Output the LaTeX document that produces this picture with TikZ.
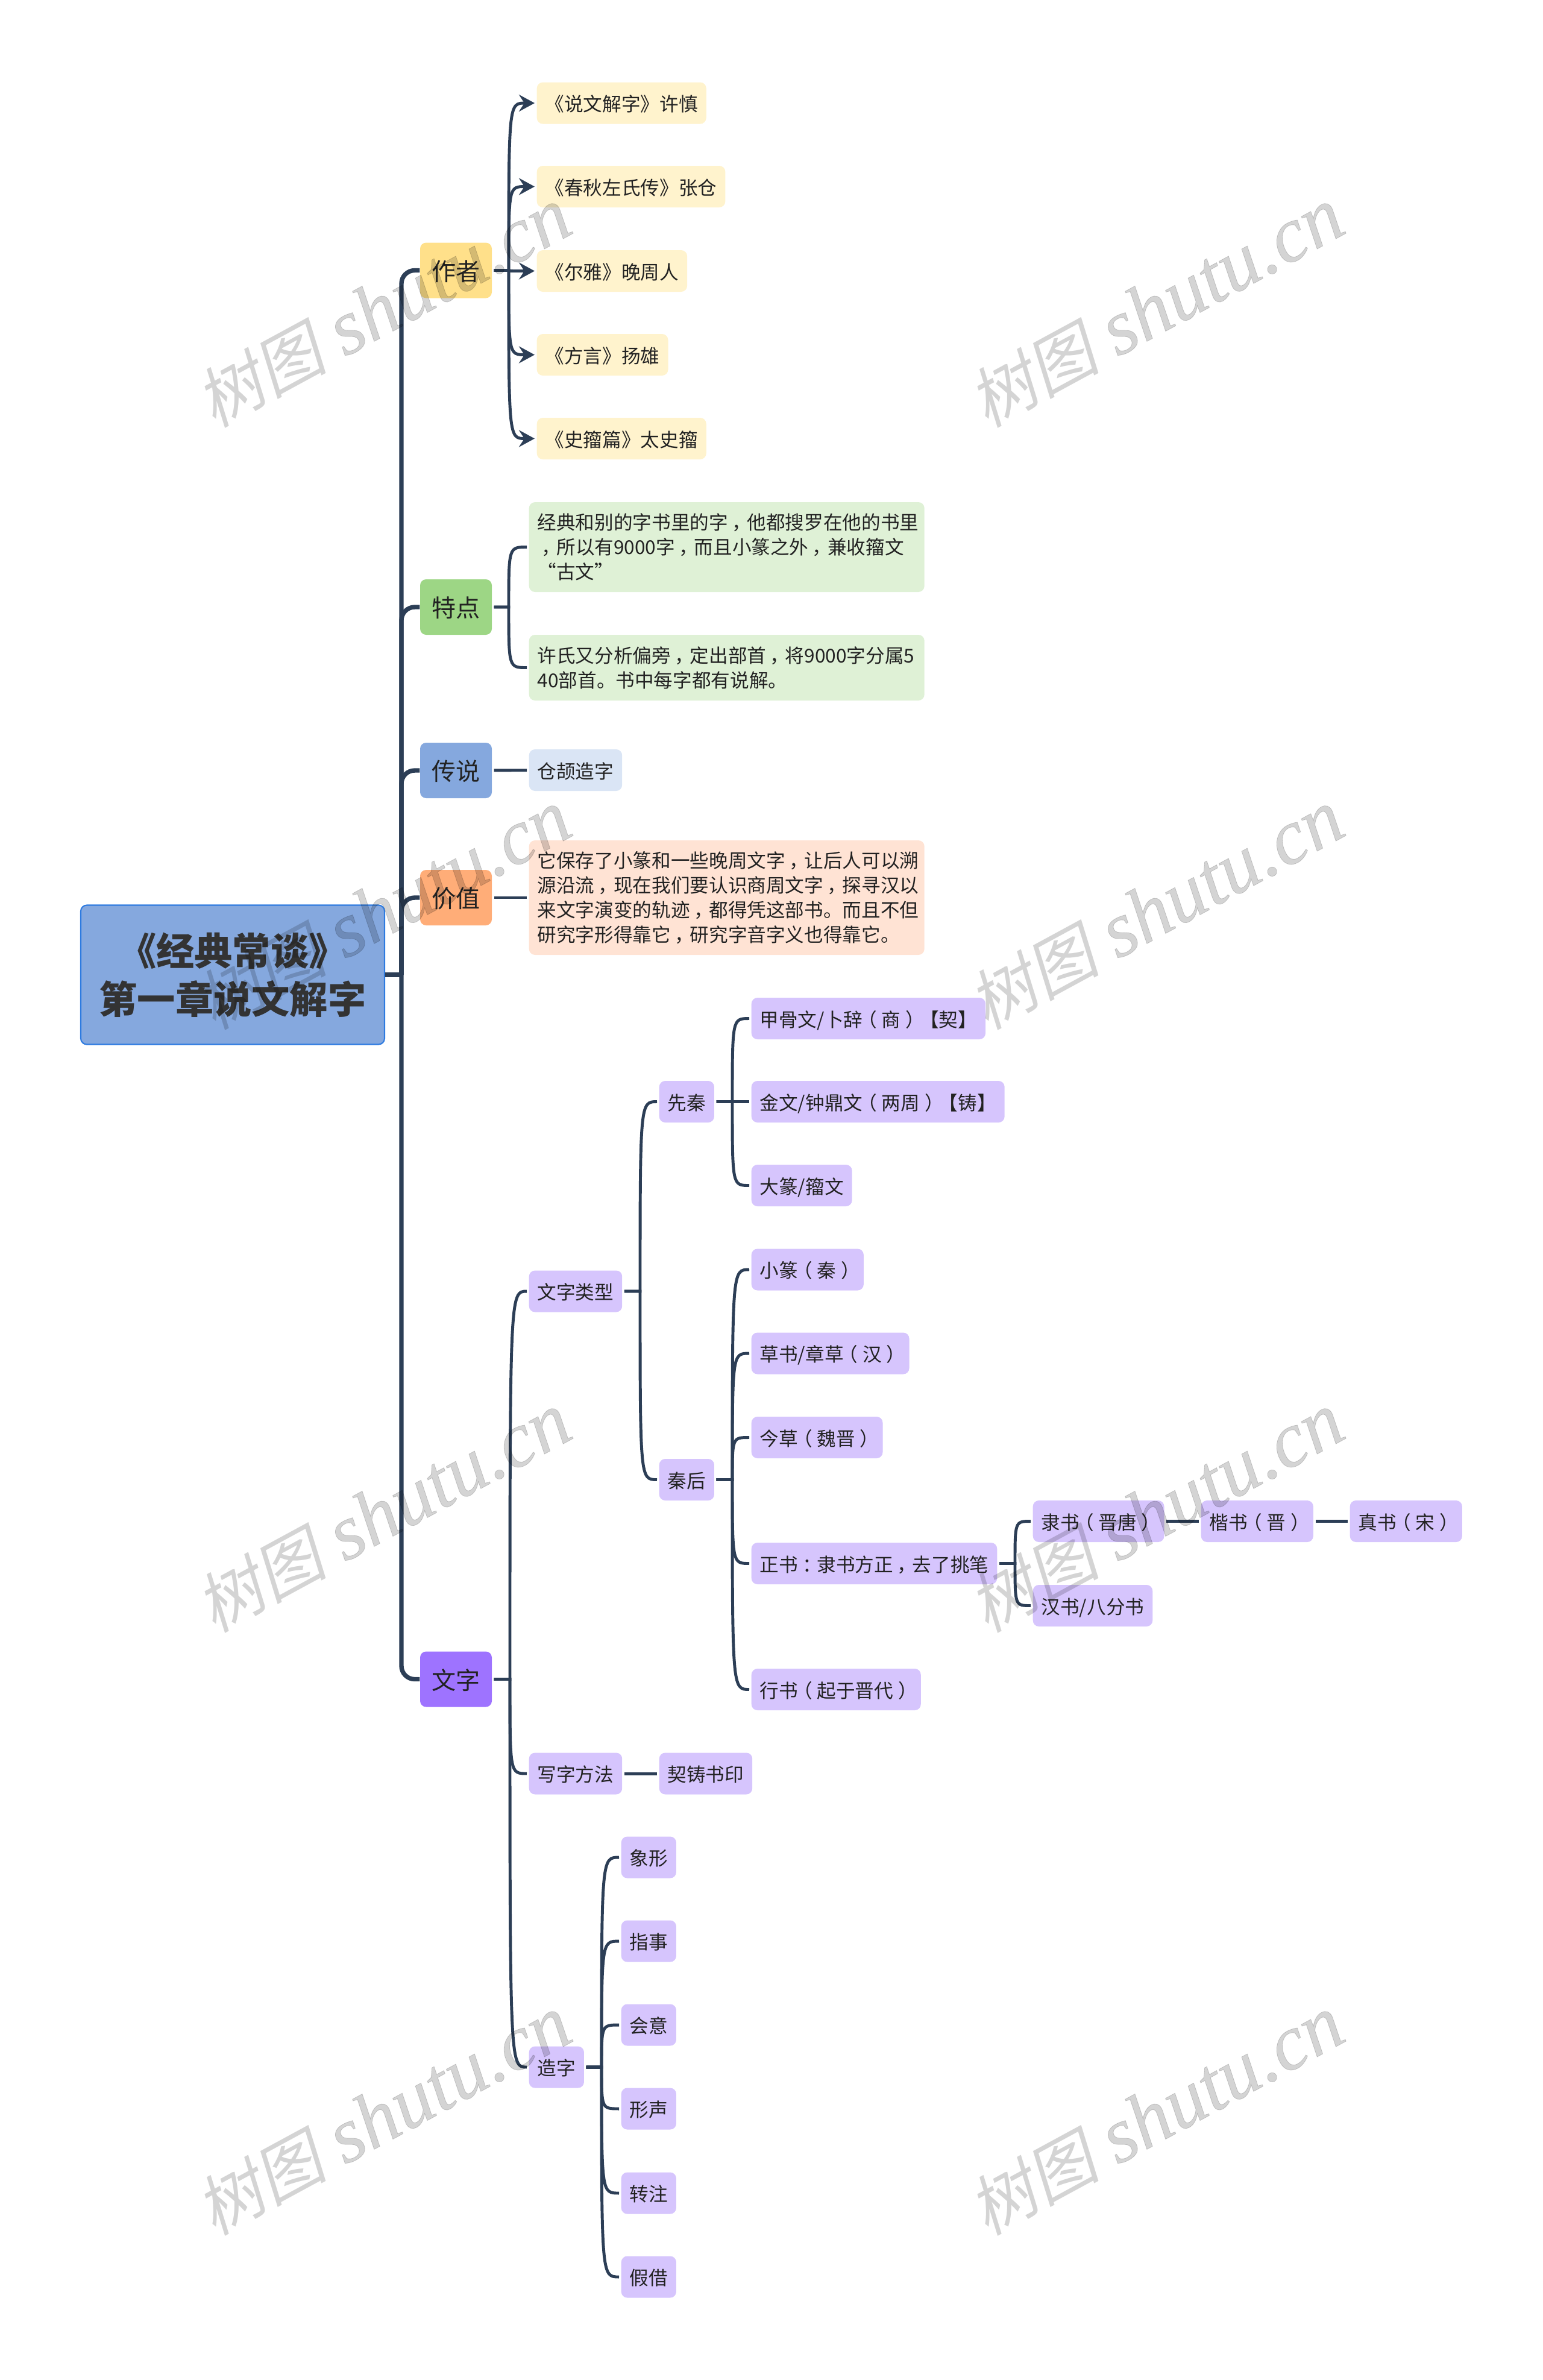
\documentclass[tikz,border=0pt]{standalone}
\usepackage{fontspec}
\setmainfont{Noto Sans CJK SC}
\newfontfamily\wmfontcjk[FakeSlant=0.2]{Noto Sans CJK SC}
\newfontfamily\wmfontlat[ItalicFeatures={FakeBold=0.6}]{Liberation Serif}
\usepackage{tikz}
\usetikzlibrary{arrows.meta}
\definecolor{linecol}{HTML}{2C3E56}
\definecolor{textcol}{HTML}{222222}
\definecolor{titlecol}{HTML}{333333}
\definecolor{rootcol}{HTML}{85A8DE}
\definecolor{rootline}{HTML}{2E7BE0}
\definecolor{yellowmain}{HTML}{FFE08A}
\definecolor{yellowleaf}{HTML}{FFF3CD}
\definecolor{greenmain}{HTML}{9DD685}
\definecolor{greenleaf}{HTML}{DFF1D6}
\definecolor{bluemain}{HTML}{85A8DE}
\definecolor{blueleaf}{HTML}{DAE5F5}
\definecolor{orangemain}{HTML}{FFAD78}
\definecolor{orangeleaf}{HTML}{FFE3D4}
\definecolor{purplemain}{HTML}{9E73FF}
\definecolor{purpleleaf}{HTML}{D6C5FD}
\tikzset{
    box/.style={rectangle, rounded corners=.1cm, inner sep=0pt, text=textcol},
    mainnode/.style={box, font=\fontsize{11.4pt}{14pt}\selectfont,
    	text height=11pt, text depth=1.4pt, minimum width=1.19cm, minimum height=.92cm},
    leaf/.style={box, font=\fontsize{9pt}{11pt}\selectfont,
    	text height=8.9pt, text depth=1.1pt, minimum height=.69cm, inner xsep=.14cm},
    para/.style={box, font=\fontsize{9pt}{11.6pt}\selectfont, align=left,
    	text width=6.28cm, inner xsep=.14cm},
    watermark/.style={text=black, text opacity=.17, rotate=28.5,
    	font=\fontsize{37pt}{40pt}\selectfont}
}
\tikzset{
    spine/.style={draw=linecol, line width=2.1pt, rounded corners=.22cm},
    branch/.style={draw=linecol, line width=1.4pt, shorten >=.03cm, shorten <=.03cm},
    arrowbranch/.style={branch, -{Stealth[length=.26cm, width=.28cm, inset=.09cm]}}
}
% full width marks sit in the middle of their square
\newcommand{\lkuo}{\kern-.25em（\kern.25em}
\newcommand{\rkuo}{\kern.25em）\kern-.25em}
\newcommand{\dou}{\leavevmode\kern.2em，\kern-.2em}
\newcommand{\mao}{\kern.25em：\kern-.25em}
% curve from a parent over its trunk to a child
\newcommand{\twig}[4][branch]{%
  \draw [#1] (#2.east) -- (#4,0 |- #2.east) .. controls (#4,0 |- #3.west) and (#4,0 |- #3.west) .. (#3.west);%
}

\begin{document}
\begin{tikzpicture}
  \useasboundingbox (0cm, 0cm) rectangle (25.6cm, -39.48cm);

  % root
  \node (root) [box, fill=rootcol, draw=rootline, line width=.6pt, minimum width=5.04cm, minimum height=2.31cm,
  	align=center, text=titlecol, font=\fontsize{18pt}{22.8pt}\selectfont\bfseries] at (3.86cm, -16.17cm) {《经典常谈》\\第一章说文解字};

  % first level
  \node (zuozhe) [mainnode, fill=yellowmain] at (7.565cm, -4.485cm) {作者};
  \node (tedian) [mainnode, fill=greenmain] at (7.565cm, -10.07cm) {特点};
  \node (chuanshuo) [mainnode, fill=bluemain] at (7.565cm, -12.78cm) {传说};
  \node (jiazhi) [mainnode, fill=orangemain] at (7.565cm, -14.89cm) {价值};
  \node (wenzi) [mainnode, fill=purplemain] at (7.565cm, -27.855cm) {文字};

  % authors
  \node (shuowen) [leaf, fill=yellowleaf, anchor=west] at (8.9cm, -1.71cm) {《说文解字》许慎};
  \node (chunqiu) [leaf, fill=yellowleaf, anchor=west] at (8.9cm, -3.095cm) {《春秋左氏传》张仓};
  \node (erya) [leaf, fill=yellowleaf, anchor=west] at (8.9cm, -4.495cm) {《尔雅》晚周人};
  \node (fangyan) [leaf, fill=yellowleaf, anchor=west] at (8.9cm, -5.885cm) {《方言》扬雄};
  \node (shizhou) [leaf, fill=yellowleaf, anchor=west] at (8.9cm, -7.275cm) {《史籀篇》太史籀};

  % notes
  \node (tedianA) [para, fill=greenleaf, anchor=west, minimum height=1.49cm] at (8.77cm, -9.075cm) {经典和别的字书里的字\dou 他都搜罗在他的书里\\\dou 所以有9000字\dou 而且小篆之外\dou 兼收籀文\\“古文”};
  \node (tedianB) [para, fill=greenleaf, anchor=west, minimum height=1.09cm] at (8.77cm, -11.075cm) {许氏又分析偏旁\dou 定出部首\dou 将9000字分属5\\40部首。书中每字都有说解。};
  \node (cangjie) [leaf, fill=blueleaf, anchor=west] at (8.77cm, -12.775cm) {仓颉造字};
  \node (baocun) [para, fill=orangeleaf, anchor=west, minimum height=1.9cm] at (8.77cm, -14.89cm) {它保存了小篆和一些晚周文字\dou 让后人可以溯\\源沿流\dou 现在我们要认识商周文字\dou 探寻汉以\\来文字演变的轨迹\dou 都得凭这部书。而且不但\\研究字形得靠它\dou 研究字音字义也得靠它。};

  % kinds of script
  \node (leixing) [leaf, fill=purpleleaf, anchor=west] at (8.77cm, -21.42cm) {文字类型};
  \node (xianqin) [leaf, fill=purpleleaf, anchor=west] at (10.93cm, -18.275cm) {先秦};
  \node (qinhou) [leaf, fill=purpleleaf, anchor=west] at (10.93cm, -24.545cm) {秦后};
  \node (jiagu) [leaf, fill=purpleleaf, anchor=west] at (12.46cm, -16.895cm) {甲骨文/卜辞\lkuo 商\rkuo 【契】};
  \node (jinwen) [leaf, fill=purpleleaf, anchor=west] at (12.46cm, -18.275cm) {金文/钟鼎文\lkuo 两周\rkuo 【铸】};
  \node (dazhuan) [leaf, fill=purpleleaf, anchor=west] at (12.46cm, -19.665cm) {大篆/籀文};
  \node (xiaozhuan) [leaf, fill=purpleleaf, anchor=west] at (12.46cm, -21.06cm) {小篆\lkuo 秦\rkuo};
  \node (caoshu) [leaf, fill=purpleleaf, anchor=west] at (12.46cm, -22.45cm) {草书/章草\lkuo 汉\rkuo};
  \node (jincao) [leaf, fill=purpleleaf, anchor=west] at (12.46cm, -23.845cm) {今草\lkuo 魏晋\rkuo};
  \node (zhengshu) [leaf, fill=purpleleaf, anchor=west] at (12.46cm, -25.935cm) {正书\mao 隶书方正\dou 去了挑笔};
  \node (xingshu) [leaf, fill=purpleleaf, anchor=west] at (12.46cm, -28.025cm) {行书\lkuo 起于晋代\rkuo};
  \node (lishu) [leaf, fill=purpleleaf, anchor=west] at (17.13cm, -25.235cm) {隶书\lkuo 晋唐\rkuo};
  \node (hanshu) [leaf, fill=purpleleaf, anchor=west] at (17.13cm, -26.635cm) {汉书/八分书};
  \node (kaishu) [leaf, fill=purpleleaf, anchor=west] at (19.92cm, -25.235cm) {楷书\lkuo 晋\rkuo};
  \node (zhenshu) [leaf, fill=purpleleaf, anchor=west] at (22.39cm, -25.235cm) {真书\lkuo 宋\rkuo};

  % writing
  \node (xiefa) [leaf, fill=purpleleaf, anchor=west] at (8.77cm, -29.42cm) {写字方法};
  \node (qizhu) [leaf, fill=purpleleaf, anchor=west] at (10.93cm, -29.42cm) {契铸书印};

  % making
  \node (zaozi) [leaf, fill=purpleleaf, anchor=west] at (8.77cm, -34.29cm) {造字};
  \node (xiang) [leaf, fill=purpleleaf, anchor=west] at (10.3cm, -30.81cm) {象形};
  \node (zhi) [leaf, fill=purpleleaf, anchor=west] at (10.3cm, -32.2cm) {指事};
  \node (hui) [leaf, fill=purpleleaf, anchor=west] at (10.3cm, -33.59cm) {会意};
  \node (xing) [leaf, fill=purpleleaf, anchor=west] at (10.3cm, -34.98cm) {形声};
  \node (zhuan) [leaf, fill=purpleleaf, anchor=west] at (10.3cm, -36.38cm) {转注};
  \node (jia) [leaf, fill=purpleleaf, anchor=west] at (10.3cm, -37.77cm) {假借};

  % connectors
  \draw [spine] (root.east) -- (6.66cm,0 |- root.east);
  \foreach \child in {zuozhe, tedian, chuanshuo, jiazhi, wenzi}{
    \draw [spine] (6.66cm,0 |- root.east) -- (6.66cm,0 |- \child.west) -- (\child.west);
  }
  \foreach \child in {shuowen, chunqiu, erya, fangyan, shizhou}{
    \twig[arrowbranch]{zuozhe}{\child}{8.44cm}
  }
  \foreach \child in {tedianA, tedianB}{
    \twig{tedian}{\child}{8.44cm}
  }
  \foreach \child in {leixing, xiefa, zaozi}{
    \twig{wenzi}{\child}{8.46cm}
  }
  \foreach \child in {xianqin, qinhou}{
    \twig{leixing}{\child}{10.62cm}
  }
  \foreach \child in {jiagu, jinwen, dazhuan}{
    \twig{xianqin}{\child}{12.15cm}
  }
  \foreach \child in {xiaozhuan, caoshu, jincao, zhengshu, xingshu}{
    \twig{qinhou}{\child}{12.15cm}
  }
  \foreach \child in {lishu, hanshu}{
    \twig{zhengshu}{\child}{16.84cm}
  }
  \foreach \child in {xiang, zhi, hui, xing, zhuan, jia}{
    \twig{zaozi}{\child}{9.98cm}
  }

  \draw [branch] (chuanshuo) -- (cangjie);
  \draw [branch] (jiazhi) -- (baocun);
  \draw [branch] (xiefa) -- (qizhu);
  \draw [branch] (lishu) -- (kaishu);
  \draw [branch] (kaishu) -- (zhenshu);

  % marks over everything
  \foreach \row/\wy in {1/-5.11, 2/-15.1, 3/-25.1, 4/-35.1}{
    \node (wmL\row) [watermark] at (6.36cm, \wy cm) {{\wmfontcjk\fontsize{31pt}{40pt}\selectfont 树图} {\wmfontlat\itshape shutu.cn}};
    \node (wmR\row) [watermark] at (19.18cm, \wy cm) {{\wmfontcjk\fontsize{31pt}{40pt}\selectfont 树图} {\wmfontlat\itshape shutu.cn}};
  }
\end{tikzpicture}
\end{document}
